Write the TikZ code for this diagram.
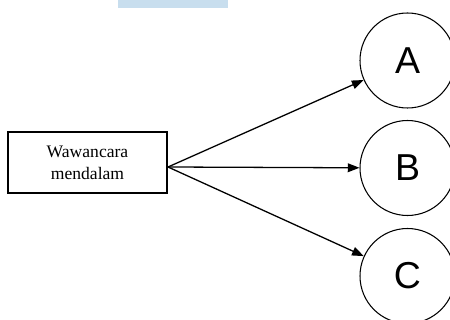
\documentclass[tikz,border=0pt]{standalone}
\usepackage{fontspec}
\setmainfont{Liberation Serif}
\newfontfamily\lettersans{Liberation Sans}
\usepackage{tikz}
\usetikzlibrary{arrows.meta}
\definecolor{bandblue}{RGB}{200,222,238}

\begin{document}
\begin{tikzpicture}[
    x=0.03cm, y=-0.03cm, % one unit is one pixel of the reference
    -{Triangle[length=10pt, width=7.5pt]}, % Makes the arrows point to the target node
    line width=1.1pt, % Line thickness for arrows
    item/.style={circle, draw, -, line width=0.9pt, minimum size=95*0.03cm, inner sep=0pt, font=\lettersans\fontsize{32}{36}\selectfont}
]
\useasboundingbox (0,0) rectangle (450,320);
\clip (0,0) rectangle (450,320);

% band at the top
\fill[bandblue] (118,0) rectangle (228,8);

% Define the nodes
\node[draw, -, line width=1pt, minimum width=159*0.03cm, minimum height=61*0.03cm, align=center,
      font=\fontsize{15}{18.5}\selectfont] (W) at (87.5,162.5) {Wawancara\\mendalam};
\coordinate (S) at (168,167);
\node[item] (A) at (407.5,60.5) {A};
\node[item] (B) at (407.5,168) {B};
\node[item] (C) at (407.5,276) {C};

% Define the directed edges
\path (S) edge (A);
\path (S) edge (B);
\path (S) edge (C);

\end{tikzpicture}
\end{document}
